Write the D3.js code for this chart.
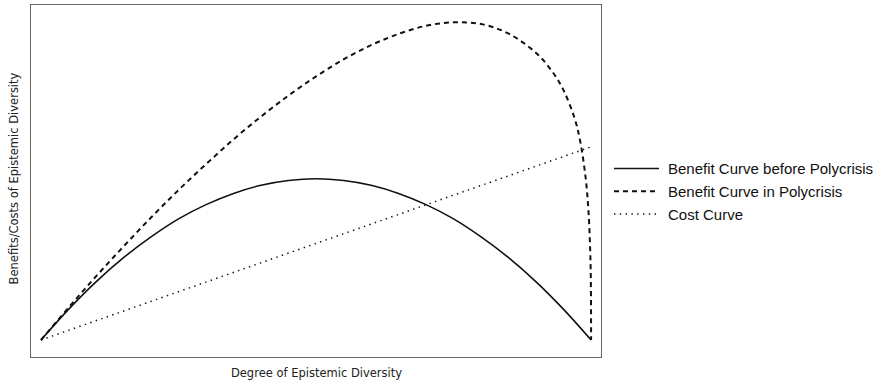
<!DOCTYPE html>
<html>
<head>
<meta charset="utf-8">
<script src="https://cdn.jsdelivr.net/npm/d3@7/dist/d3.min.js"></script>
<style>
  html, body { margin: 0; padding: 0; background: #fff; }
  svg { display: block; }
</style>
</head>
<body>
<svg id="chart" width="886" height="384"></svg>
<script>
// ---- data ----
const xLabel = "Degree of Epistemic Diversity";
const yLabel = "Benefits/Costs of Epistemic Diversity";
const seriesNames = ["Benefit Curve before Polycrisis", "Benefit Curve in Polycrisis", "Cost Curve"];

const beforeX = [0, 5, 10, 15, 20, 25, 30, 35, 40, 45, 50, 55, 60, 65, 70, 75, 80, 85, 90, 95, 100];
const beforeY = [0, 9.0, 17.1, 24.2, 30.3, 35.6, 39.8, 43.1, 45.5, 46.9, 47.4, 46.9, 45.5, 43.1, 39.8, 35.6, 30.3, 24.2, 17.1, 9.0, 0];

const crisisX = [0, 5, 10, 15, 20, 25, 30, 35, 40, 45, 50, 55, 60, 65, 70, 75, 80, 85, 90, 93, 95, 97, 98, 99, 99.5, 99.8, 99.95, 100];
const crisisY = [0, 9.5, 18.7, 27.5, 36.0, 44.1, 51.7, 59.0, 65.7, 71.9, 77.5, 82.5, 86.7, 90.0, 92.4, 93.4, 92.9, 90.1, 84.4, 78.8, 73.4, 65.2, 58.6, 47.8, 38.5, 28.0, 18.0, 0];

const costX = [0, 100];
const costY = [0, 56.8];

// ---- layout ----
const svg = d3.select("#chart");
const frame = { left: 30, top: 4, right: 601, bottom: 357 };

const x = d3.scaleLinear().domain([-2, 101.8]).range([frame.left, frame.right]);
const y = d3.scaleLinear().domain([-5, 98.8]).range([frame.bottom, frame.top]);

// frame
svg.append("rect")
  .attr("x", frame.left + 0.5).attr("y", frame.top + 0.5)
  .attr("width", frame.right - frame.left).attr("height", frame.bottom - frame.top)
  .attr("fill", "none").attr("stroke", "#666").attr("stroke-width", 1);

const toPts = (xs, ys) => xs.map((v, i) => [v, ys[i]]);

const line = d3.line().x(d => x(d[0])).y(d => y(d[1])).curve(d3.curveCatmullRom.alpha(0.5));
const straight = d3.line().x(d => x(d[0])).y(d => y(d[1]));

const styles = [
  { dash: null, width: 1.6 },
  { dash: "5,4", width: 2 },
  { dash: "1.4,4.4", width: 1.5 }
];

svg.append("path").datum(toPts(costX, costY))
  .attr("d", straight).attr("fill", "none").attr("stroke", "#111")
  .attr("stroke-width", styles[2].width).attr("stroke-dasharray", styles[2].dash);

svg.append("path").datum(toPts(crisisX, crisisY))
  .attr("d", line).attr("fill", "none").attr("stroke", "#111")
  .attr("stroke-width", styles[1].width).attr("stroke-dasharray", styles[1].dash);

svg.append("path").datum(toPts(beforeX, beforeY))
  .attr("d", line).attr("fill", "none").attr("stroke", "#111")
  .attr("stroke-width", styles[0].width);

// axis labels
svg.append("text")
  .attr("x", 316.5).attr("y", 377)
  .attr("text-anchor", "middle")
  .attr("font-family", "DejaVu Sans, sans-serif").attr("font-size", 11.5)
  .attr("fill", "#222")
  .text(xLabel);

svg.append("text")
  .attr("transform", `translate(18, 178.5) rotate(-90)`)
  .attr("text-anchor", "middle")
  .attr("font-family", "DejaVu Sans, sans-serif").attr("font-size", 11.5)
  .attr("fill", "#222")
  .text(yLabel);

// legend
const legY = [168.5, 191.3, 214];
const lg = svg.append("g");
seriesNames.forEach((name, i) => {
  lg.append("line")
    .attr("x1", 614).attr("x2", 659)
    .attr("y1", legY[i]).attr("y2", legY[i])
    .attr("stroke", "#111").attr("stroke-width", styles[i].width)
    .attr("stroke-dasharray", styles[i].dash);
  lg.append("text")
    .attr("x", 668).attr("y", legY[i] + 5.5)
    .attr("font-family", "Liberation Sans, Arial, sans-serif").attr("font-size", 15)
    .attr("fill", "#111")
    .text(name);
});
</script>
</body>
</html>
